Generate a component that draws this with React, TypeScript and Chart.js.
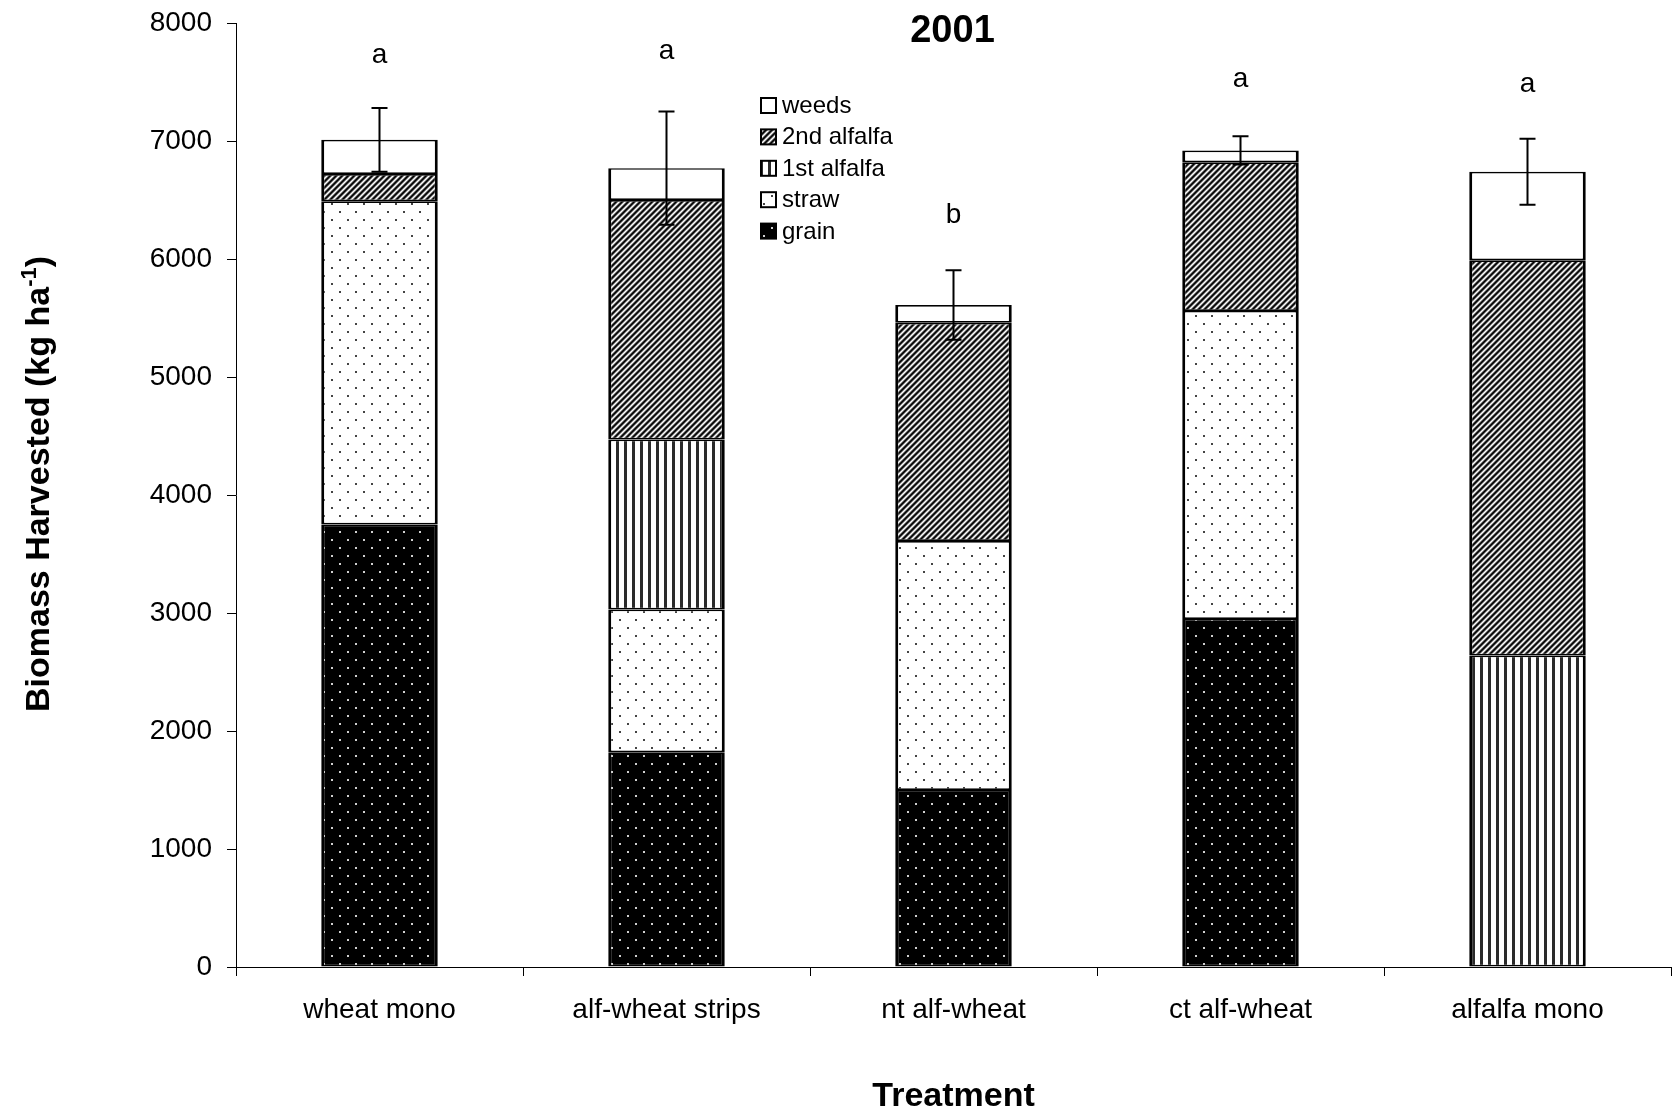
import React, { useEffect, useRef } from "react";
import { Chart, registerables } from "chart.js";
Chart.register(...registerables);

const categories = ["wheat mono", "alf-wheat strips", "nt alf-wheat", "ct alf-wheat", "alfalfa mono"];
const grain = [3750, 1820, 1500, 2950, null];
const straw = [2740, 1210, 2110, 2610, null];
const alfalfa1st = [null, 1440, null, null, 2640];
const alfalfa2nd = [230, 2030, 1850, 1260, 3350];
const weeds = [290, 270, 150, 100, 750];
const errorHalf = [270, 480, 295, 120, 280];
const letters = ["a", "a", "b", "a", "a"];
const letterY = [7740, 7770, 6380, 7530, 7490];
const yTicks = [0, 1000, 2000, 3000, 4000, 5000, 6000, 7000, 8000];
const legendOrder = ["weeds", "2nd alfalfa", "1st alfalfa", "straw", "grain"];

const FONT = "'Liberation Sans', Arial, Helvetica, sans-serif";

function makeTile(w: number, h: number, draw: (c: CanvasRenderingContext2D) => void) {
  const cv = document.createElement("canvas");
  cv.width = w;
  cv.height = h;
  const c = cv.getContext("2d")!;
  draw(c);
  return cv;
}

function patterns(ctx: CanvasRenderingContext2D) {
  const grainTile = makeTile(16, 16, (c) => {
    c.fillStyle = "#000";
    c.fillRect(0, 0, 16, 16);
    c.fillStyle = "#d0d0d0";
    c.fillRect(3, 3, 2, 2);
    c.fillRect(11, 11, 2, 2);
  });
  const strawTile = makeTile(16, 16, (c) => {
    c.fillStyle = "#fff";
    c.fillRect(0, 0, 16, 16);
    c.fillStyle = "#444";
    c.fillRect(3, 3, 2, 2);
    c.fillRect(11, 11, 2, 2);
  });
  const vertTile = makeTile(8, 8, (c) => {
    c.fillStyle = "#fff";
    c.fillRect(0, 0, 8, 8);
    c.fillStyle = "#2a2a2a";
    c.fillRect(0, 0, 3, 8);
  });
  const diagTile = makeTile(6, 6, (c) => {
    c.fillStyle = "#fff";
    c.fillRect(0, 0, 6, 6);
    for (let x = 0; x < 6; x++) {
      for (let y = 0; y < 6; y++) {
        const m = (x + y) % 6;
        if (m < 3) {
          c.fillStyle = m === 1 ? "#000" : "#333";
          c.fillRect(x, y, 1, 1);
        } else if (m === 3 || m === 5) {
          c.fillStyle = "#aaa";
          c.fillRect(x, y, 1, 1);
        }
      }
    }
  });
  return {
    grain: ctx.createPattern(grainTile, "repeat")!,
    straw: ctx.createPattern(strawTile, "repeat")!,
    alf1: ctx.createPattern(vertTile, "repeat")!,
    alf2: ctx.createPattern(diagTile, "repeat")!,
    weeds: "#ffffff",
  };
}

export default function App() {
  const ref = useRef<HTMLCanvasElement>(null);

  useEffect(() => {
    document.body.style.margin = "0";
    document.body.style.overflow = "hidden";
    const canvas = ref.current!;
    const ctx = canvas.getContext("2d")!;
    const p = patterns(ctx);
    const fills: Record<string, any> = {
      weeds: p.weeds,
      "2nd alfalfa": p.alf2,
      "1st alfalfa": p.alf1,
      straw: p.straw,
      grain: p.grain,
    };

    const common = {
      borderColor: "#000",
      borderWidth: { top: 1.7, bottom: 1.7, left: 3, right: 3 },
      borderSkipped: false as const,
      barPercentage: 0.406,
      categoryPercentage: 1.0,
    };

    const overlay = {
      id: "overlay",
      afterDatasetsDraw(chart: any) {
        const c = chart.ctx as CanvasRenderingContext2D;
        const xs = chart.scales.x;
        const ys = chart.scales.y;
        c.save();
        c.strokeStyle = "#000";
        c.lineWidth = 2;
        categories.forEach((_, i) => {
          const total =
            (grain[i] || 0) + (straw[i] || 0) + (alfalfa1st[i] || 0) + (alfalfa2nd[i] || 0) + (weeds[i] || 0);
          const x = xs.getPixelForValue(i);
          const yt = ys.getPixelForValue(total + errorHalf[i]);
          const yb = ys.getPixelForValue(total - errorHalf[i]);
          c.beginPath();
          c.moveTo(x, yt);
          c.lineTo(x, yb);
          c.moveTo(x - 8, yt);
          c.lineTo(x + 8, yt);
          c.moveTo(x - 8, yb);
          c.lineTo(x + 8, yb);
          c.stroke();
        });
        c.fillStyle = "#000";
        c.font = `28px ${FONT}`;
        c.textAlign = "center";
        c.textBaseline = "alphabetic";
        letters.forEach((l, i) => {
          const x = xs.getPixelForValue(i);
          const y = ys.getPixelForValue(letterY[i]) + 9;
          c.fillText(l, x, y);
        });
        c.restore();
      },
      afterDraw(chart: any) {
        const c = chart.ctx as CanvasRenderingContext2D;
        const area = chart.chartArea;
        const cx = (area.left + area.right) / 2;
        c.save();
        c.fillStyle = "#000";
        c.textBaseline = "alphabetic";
        c.textAlign = "center";
        c.font = `bold 38px ${FONT}`;
        c.fillText("2001", cx - 1, 42);
        c.font = `bold 34px ${FONT}`;
        c.fillText("Treatment", cx, 1106);
        c.save();
        c.translate(49, 484);
        c.rotate(-Math.PI / 2);
        const main = "Biomass Harvested (kg ha";
        const sup = "-1";
        const end = ")";
        c.font = `bold 34px ${FONT}`;
        const w1 = c.measureText(main).width;
        const w3 = c.measureText(end).width;
        c.font = `bold 22px ${FONT}`;
        const w2 = c.measureText(sup).width;
        const start = -(w1 + w2 + w3) / 2;
        c.textAlign = "left";
        c.font = `bold 34px ${FONT}`;
        c.fillText(main, start, 0);
        c.font = `bold 22px ${FONT}`;
        c.fillText(sup, start + w1, -13);
        c.font = `bold 34px ${FONT}`;
        c.fillText(end, start + w1 + w2, 0);
        c.restore();
        c.font = `24px ${FONT}`;
        c.textAlign = "left";
        legendOrder.forEach((name, i) => {
          const base = 113 + i * 31.4;
          const bx = 761;
          const by = base - 15;
          c.fillStyle = fills[name];
          c.fillRect(bx, by, 15, 15);
          c.strokeStyle = "#000";
          c.lineWidth = 2;
          c.strokeRect(bx, by, 15, 15);
          c.fillStyle = "#000";
          c.fillText(name, 782, base);
        });
        c.restore();
      },
    };

    const chart = new Chart(ctx, {
      type: "bar",
      data: {
        labels: categories,
        datasets: [
          { label: "grain", data: grain, backgroundColor: p.grain, ...common },
          { label: "straw", data: straw, backgroundColor: p.straw, ...common },
          { label: "1st alfalfa", data: alfalfa1st, backgroundColor: p.alf1, ...common },
          { label: "2nd alfalfa", data: alfalfa2nd, backgroundColor: p.alf2, ...common },
          { label: "weeds", data: weeds, backgroundColor: p.weeds, ...common },
        ] as any,
      },
      options: {
        responsive: false,
        animation: false,
        layout: { padding: { left: 0, right: 8, top: 23, bottom: 0 } },
        plugins: {
          legend: { display: false },
          title: { display: false },
          tooltip: { enabled: false },
        },
        scales: {
          x: {
            stacked: true,
            grid: {
              display: true,
              drawOnChartArea: false,
              drawTicks: true,
              tickLength: 9,
              color: "#000",
              offset: true,
              lineWidth: 1,
            },
            border: { display: true, color: "#000", width: 1 },
            ticks: {
              color: "#000",
              font: { family: FONT, size: 28 },
              padding: 17,
              maxRotation: 0,
              autoSkip: false,
            },
            afterFit: (s: any) => {
              s.height = 151;
              s.paddingLeft = 0;
              s.paddingRight = 0;
            },
          },
          y: {
            stacked: true,
            min: 0,
            max: 8000,
            afterBuildTicks: (s: any) => {
              s.ticks = yTicks.map((v) => ({ value: v }));
            },
            ticks: {
              color: "#000",
              font: { family: FONT, size: 28 },
              padding: 15,
              callback: (v: any) => String(v),
            },
            grid: { drawOnChartArea: false, tickLength: 9, color: "#000", lineWidth: 1 },
            border: { display: true, color: "#000", width: 1 },
            afterFit: (s: any) => {
              s.width = 236;
              s.paddingTop = 0;
              s.paddingBottom = 0;
            },
          },
        },
      },
      plugins: [overlay],
    });
    return () => chart.destroy();
  }, []);

  return (
    <div style={{ width: 1679, height: 1118, background: "#fff" }}>
      <canvas ref={ref} width={1679} height={1118} style={{ display: "block" }} />
    </div>
  );
}
